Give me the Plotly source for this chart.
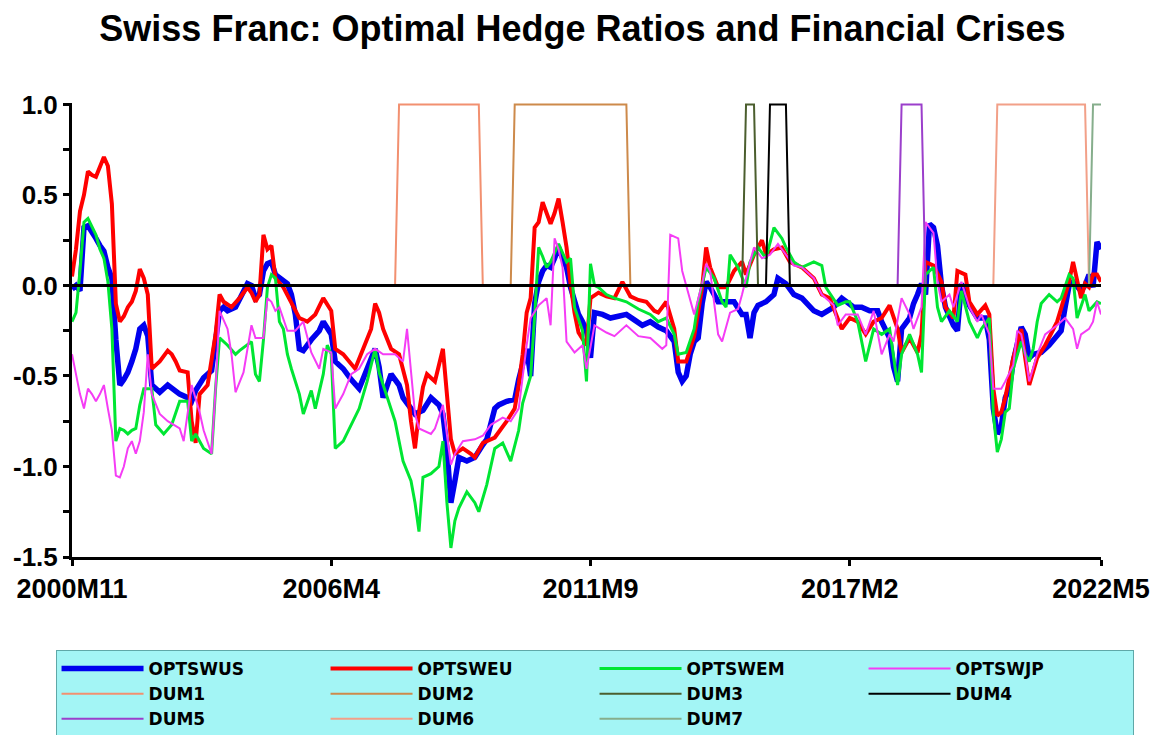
import plotly.graph_objects as go

# ---- axis labels ----
TICK_MONTHS = [0, 65, 130, 195, 258]
TICK_LABELS = ["2000M11", "2006M4", "2011M9", "2017M2", "2022M5"]
N_MONTHS = 259  # 2000M11 .. 2022M5

# ---- OPTSWUS ----
US_M = [0,1,2,3,4,5,6,7,8,9,10,11,12,13,14,15,16,17,18,19,20,21,22,24,26,27,29,30,31,33,35,36,37,38,39,41,43,44,45,46,47,48,49,50,51,52,54,55,56,57,58,60,62,63,65,66,68,70,72,74,76,77,78,80,82,83,85,86,88,90,92,93,94,95,96,97,99,101,103,104,106,107,109,111,112,113,114,115,116,117,118,119,120,121,122,123,124,125,126,127,128,129,130,131,133,135,137,139,141,143,145,147,149,150,151,152,153,154,155,156,157,158,159,160,162,164,166,168,169,170,171,172,174,176,177,179,181,183,185,186,188,191,193,195,196,198,200,202,203,205,206,207,208,210,211,212,213,214,215,216,217,218,219,221,222,223,225,227,229,230,231,232,233,234,235,236,238,239,240,241,243,245,247,248,249,250,251,252,253,254,255,256,257,258]
US_V = [-0.02,0.0,-0.03,0.32,0.33,0.30,0.26,0.22,0.19,0.10,0.04,-0.30,-0.55,-0.52,-0.48,-0.42,-0.35,-0.24,-0.22,-0.28,-0.55,-0.57,-0.59,-0.55,-0.58,-0.60,-0.62,-0.64,-0.58,-0.51,-0.47,-0.31,-0.14,-0.12,-0.14,-0.12,-0.04,0.01,0.0,-0.07,-0.05,0.08,0.12,0.13,0.06,0.04,0.01,-0.05,-0.16,-0.35,-0.36,-0.30,-0.25,-0.20,-0.27,-0.42,-0.46,-0.52,-0.57,-0.46,-0.35,-0.45,-0.62,-0.49,-0.55,-0.62,-0.68,-0.71,-0.69,-0.62,-0.66,-0.71,-0.90,-1.20,-1.08,-0.95,-0.97,-0.95,-0.88,-0.85,-0.68,-0.66,-0.64,-0.63,-0.52,-0.44,-0.35,-0.50,-0.10,0.02,0.08,0.11,0.10,0.15,0.21,0.15,0.10,-0.01,-0.10,-0.16,-0.20,-0.25,-0.40,-0.15,-0.16,-0.18,-0.17,-0.16,-0.19,-0.22,-0.20,-0.23,-0.25,-0.28,-0.31,-0.48,-0.53,-0.50,-0.38,-0.31,-0.29,-0.10,0.02,-0.01,-0.09,-0.09,-0.09,-0.16,-0.16,-0.29,-0.15,-0.11,-0.09,-0.05,0.04,0.01,-0.05,-0.07,-0.12,-0.14,-0.16,-0.12,-0.07,-0.10,-0.12,-0.12,-0.14,-0.14,-0.20,-0.29,-0.45,-0.53,-0.24,-0.18,-0.10,-0.05,0.01,-0.05,0.34,0.32,0.22,0.0,-0.12,-0.22,-0.25,0.01,-0.11,-0.18,-0.18,-0.30,-0.68,-0.82,-0.78,-0.62,-0.57,-0.42,-0.23,-0.27,-0.40,-0.38,-0.37,-0.33,-0.27,-0.25,-0.12,0.0,0.02,-0.01,-0.03,0.0,0.06,-0.01,0.24,0.20]

# ---- OPTSWEU ----
EU_M = [0,1,2,3,4,5,6,7,8,9,10,11,12,13,14,15,16,17,18,19,20,21,22,24,25,26,27,29,30,31,32,34,36,37,38,40,42,44,45,46,47,48,49,50,51,53,55,57,59,61,63,65,66,68,71,73,75,76,77,78,80,82,84,85,86,87,88,89,91,93,94,95,96,98,100,101,103,106,109,111,112,113,114,115,116,117,118,119,120,121,122,123,124,125,126,127,129,130,132,134,136,138,140,142,144,146,147,149,151,152,154,156,157,158,159,160,162,164,166,168,169,171,173,174,176,178,180,183,186,188,190,193,195,197,199,201,203,205,207,208,210,212,213,214,216,218,219,221,222,224,225,227,229,230,231,232,233,234,236,238,239,240,242,244,247,248,250,251,252,253,254,255,256,257,258]
EU_V = [0.05,0.20,0.41,0.50,0.63,0.61,0.60,0.66,0.71,0.66,0.45,-0.10,-0.20,-0.17,-0.12,-0.09,-0.03,0.09,0.04,-0.05,-0.46,-0.44,-0.42,-0.36,-0.38,-0.42,-0.47,-0.48,-0.75,-0.87,-0.60,-0.55,-0.27,-0.05,-0.09,-0.12,-0.07,-0.01,-0.04,-0.09,-0.05,0.28,0.20,0.22,0.04,-0.01,-0.09,-0.18,-0.20,-0.16,-0.07,-0.14,-0.35,-0.38,-0.46,-0.35,-0.24,-0.10,-0.15,-0.24,-0.35,-0.38,-0.55,-0.75,-0.90,-0.70,-0.56,-0.49,-0.53,-0.35,-0.60,-0.85,-0.93,-0.90,-0.93,-0.95,-0.87,-0.84,-0.75,-0.68,-0.55,-0.38,-0.15,-0.07,0.32,0.35,0.46,0.40,0.34,0.40,0.48,0.35,0.21,0.01,-0.15,-0.26,-0.33,-0.07,-0.04,-0.06,-0.07,0.02,-0.06,-0.08,-0.09,-0.14,-0.15,-0.09,-0.24,-0.42,-0.42,-0.28,-0.13,-0.01,0.21,0.10,-0.01,-0.01,0.08,0.13,0.06,0.17,0.25,0.17,0.20,0.21,0.13,0.10,0.04,-0.05,-0.07,-0.24,-0.18,-0.20,-0.27,-0.20,-0.18,-0.11,-0.24,-0.37,-0.29,-0.37,-0.27,0.13,0.11,0.02,-0.12,-0.18,0.08,0.06,-0.09,-0.16,-0.11,-0.16,-0.57,-0.72,-0.70,-0.62,-0.40,-0.24,-0.40,-0.55,-0.40,-0.33,-0.20,-0.12,0.02,0.13,0.04,-0.07,0.01,-0.01,0.06,0.06,0.02]

# ---- OPTSWEM ----
EM_M = [0,1,2,3,4,5,6,7,8,9,10,11,12,13,14,15,16,17,18,20,21,23,25,27,29,30,31,33,35,36,37,39,41,42,45,46,47,48,49,50,51,52,53,54,55,57,58,60,61,63,64,65,66,68,70,72,74,76,77,79,81,83,85,86,87,88,90,92,93,94,95,96,97,99,101,102,104,106,108,110,112,113,115,116,117,118,119,120,122,123,124,125,126,128,129,130,131,132,134,136,139,142,145,147,149,151,152,154,156,157,159,161,163,164,165,167,169,170,172,174,176,178,179,181,183,186,188,189,192,194,195,197,199,201,203,205,207,208,210,212,213,214,216,217,218,220,222,223,225,227,228,230,231,232,233,234,235,236,238,239,240,241,242,243,245,247,248,250,251,252,253,254,255,257,258]
EM_V = [-0.20,-0.15,0.08,0.35,0.37,0.32,0.28,0.20,0.15,0.02,-0.24,-0.86,-0.79,-0.80,-0.82,-0.80,-0.79,-0.66,-0.57,-0.57,-0.77,-0.82,-0.77,-0.64,-0.64,-0.86,-0.82,-0.90,-0.93,-0.57,-0.29,-0.33,-0.38,-0.36,-0.31,-0.49,-0.53,-0.30,-0.01,0.06,0.04,-0.20,-0.24,-0.38,-0.46,-0.60,-0.71,-0.58,-0.68,-0.49,-0.33,-0.38,-0.90,-0.86,-0.77,-0.68,-0.53,-0.35,-0.48,-0.62,-0.75,-0.97,-1.08,-1.20,-1.36,-1.06,-1.04,-1.00,-0.86,-1.20,-1.45,-1.30,-1.23,-1.14,-1.20,-1.25,-1.10,-0.90,-0.87,-0.97,-0.80,-0.65,-0.50,-0.17,0.21,0.16,0.10,0.13,0.23,0.18,0.13,0.15,-0.12,-0.25,-0.53,0.12,0.0,-0.01,-0.05,-0.07,-0.09,-0.13,-0.16,-0.20,-0.18,-0.27,-0.38,-0.37,-0.24,-0.09,0.10,0.04,-0.09,-0.12,0.17,0.10,-0.01,0.13,0.21,0.15,0.32,0.26,0.21,0.13,0.10,0.13,0.11,-0.01,-0.11,-0.09,-0.09,-0.20,-0.42,-0.24,-0.27,-0.24,-0.55,-0.38,-0.27,-0.38,-0.48,0.06,0.10,-0.12,-0.20,-0.14,-0.20,-0.03,-0.20,-0.29,-0.24,-0.18,-0.71,-0.92,-0.85,-0.70,-0.68,-0.46,-0.31,-0.38,-0.42,-0.35,-0.20,-0.10,-0.05,-0.09,-0.07,0.06,0.04,-0.18,-0.12,-0.05,-0.14,-0.09,-0.10]

# ---- OPTSWJP ----
JP_M = [0,1,2,3,4,5,6,7,8,9,10,11,12,13,14,15,16,17,18,19,20,22,24,27,28,30,32,33,35,36,37,39,40,41,43,45,46,48,49,50,51,52,54,56,58,60,62,63,65,66,68,70,72,74,76,78,81,83,84,86,87,90,91,93,95,96,98,101,103,105,108,110,112,114,115,117,119,120,121,122,123,124,126,128,129,131,134,136,139,142,145,148,149,150,152,153,156,158,159,160,162,163,165,167,168,170,171,173,175,177,179,181,183,186,188,191,192,194,197,199,201,203,205,206,208,210,211,213,214,216,217,218,220,221,223,225,227,228,230,231,233,234,236,237,238,239,240,242,244,247,249,251,252,253,255,256,257,258]
JP_V = [-0.38,-0.50,-0.60,-0.68,-0.57,-0.60,-0.64,-0.60,-0.55,-0.68,-0.80,-1.05,-1.06,-1.00,-0.90,-0.86,-0.93,-0.86,-0.70,-0.38,-0.60,-0.71,-0.75,-0.79,-0.86,-0.55,-0.70,-0.80,-0.93,-0.57,-0.14,-0.24,-0.38,-0.59,-0.48,-0.22,-0.29,-0.29,-0.07,-0.09,-0.14,-0.12,-0.25,-0.25,-0.20,-0.37,-0.46,-0.35,-0.37,-0.68,-0.60,-0.49,-0.46,-0.38,-0.35,-0.38,-0.38,-0.42,-0.24,-0.71,-0.79,-0.82,-0.79,-0.66,-0.99,-0.93,-0.86,-0.85,-0.83,-0.77,-0.73,-0.75,-0.68,-0.33,-0.18,-0.11,-0.07,-0.22,0.26,0.20,0.10,-0.31,-0.37,-0.33,-0.46,-0.22,-0.26,-0.28,-0.22,-0.28,-0.29,-0.35,-0.33,0.28,0.26,0.08,-0.16,0.01,0.12,0.08,-0.27,-0.31,-0.15,-0.13,-0.05,0.13,0.21,0.15,0.17,0.23,0.17,0.11,0.10,0.04,-0.05,-0.11,-0.22,-0.16,-0.16,-0.27,-0.14,-0.38,-0.27,-0.31,-0.07,-0.16,-0.24,-0.12,0.35,0.29,0.02,-0.09,-0.05,-0.12,0.02,-0.12,-0.20,-0.16,-0.27,-0.57,-0.57,-0.53,-0.44,-0.25,-0.27,-0.38,-0.53,-0.38,-0.27,-0.22,-0.18,-0.24,-0.35,-0.27,-0.24,-0.20,-0.09,-0.16]

# ---- crisis dummies: (first month =1, last month =1), month index from 2000M11 ----
DUM_NAMES = ["DUM1", "DUM2", "DUM3", "DUM4", "DUM5", "DUM6", "DUM7"]
DUM_START = [82, 111, 169, 175, 208, 232, 256]
DUM_END = [102, 139, 171, 179, 213, 254, 258]
DUM_COLORS = ["#F29070", "#CD8A4B", "#4B5E2E", "#000000", "#9B3FCB", "#F2A088", "#86AE8C"]

FONT = "Liberation Sans, Arial, sans-serif"
LEG_FONT = "DejaVu Sans, Liberation Sans, sans-serif"

fig = go.Figure()

series = [
    ("OPTSWUS", US_M, US_V, "#0000EE", 5.5),
    ("OPTSWEU", EU_M, EU_V, "#FF0000", 4),
    ("OPTSWEM", EM_M, EM_V, "#00E633", 3),
    ("OPTSWJP", JP_M, JP_V, "#F53CF5", 2),
]
for name, mx, vy, col, w in series:
    fig.add_trace(go.Scatter(x=mx, y=vy, mode="lines", name=name,
                             line=dict(color=col, width=w)))

months = list(range(N_MONTHS))
for name, s, e, col in zip(DUM_NAMES, DUM_START, DUM_END, DUM_COLORS):
    vals = [1 if s <= m <= e else 0 for m in months]
    fig.add_trace(go.Scatter(x=months, y=vals, mode="lines", name=name,
                             line=dict(color=col, width=2)))

# zero line on top
fig.add_shape(type="line", xref="x", yref="y", x0=0, x1=N_MONTHS - 1, y0=0, y1=0,
              line=dict(color="black", width=3), layer="above")

fig.update_layout(
    width=1158, height=735,
    margin=dict(l=72, r=57, t=103, b=178, autoexpand=False),
    paper_bgcolor="white", plot_bgcolor="white",
    title=dict(text="Swiss Franc: Optimal Hedge Ratios and Financial Crises",
               font=dict(family=FONT, size=36, color="black", weight="bold"),
               x=0.503, xanchor="center", y=0.962, yanchor="middle",
               xref="container", yref="container"),
    xaxis=dict(range=[0, N_MONTHS - 1], tickvals=TICK_MONTHS, ticktext=TICK_LABELS,
               showgrid=False, zeroline=False, showline=True, linecolor="black",
               linewidth=3, ticks="outside", ticklen=6, tickwidth=3, tickcolor="black",
               ticklabelstandoff=0,
               tickfont=dict(family=FONT, size=27, color="black", weight="bold")),
    yaxis=dict(range=[-1.5, 1.008], tickvals=[-1.5, -1.0, -0.5, 0.0, 0.5, 1.0],
               ticktext=["-1.5", "-1.0", "-0.5", "0.0", "0.5", "1.0"],
               showgrid=False, zeroline=False, showline=True, linecolor="black",
               linewidth=3, ticks="outside", ticklen=6, tickwidth=3, tickcolor="black",
               ticklabelstandoff=0,
               minor=dict(tickvals=[-1.25, -0.75, -0.25, 0.25, 0.75], ticks="outside",
                          ticklen=6, tickwidth=3, tickcolor="black"),
               tickfont=dict(family=FONT, size=26, color="black", weight="bold")),
    showlegend=True,
    legend=dict(orientation="h", x=-0.016, xanchor="left", y=-0.205, yanchor="top",
                bgcolor="#A3F5F5", bordercolor="#5FA8A8", borderwidth=1,
                entrywidth=172, entrywidthmode="pixels", itemwidth=82,
                font=dict(family=LEG_FONT, size=17, color="black", weight="bold"),
                tracegroupgap=0),
)

fig.write_html("out.html", config={"displayModeBar": False},
               post_script="document.body.style.margin='0px';")
